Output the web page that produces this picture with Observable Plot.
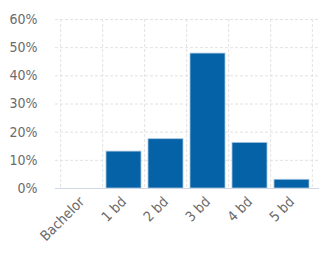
<!DOCTYPE html>
<html><head><meta charset="utf-8">
<script src="https://cdn.jsdelivr.net/npm/d3@7"></script>
<script src="https://cdn.jsdelivr.net/npm/@observablehq/plot@0.6"></script>
<style>body{margin:0;background:#fff}</style>
</head><body><div id="chart"></div>
<script>
const categories = ["Bachelor", "1 bd", "2 bd", "3 bd", "4 bd", "5 bd"];
const shares = [0.0, 0.131, 0.175, 0.479, 0.162, 0.031];
const yTicks = [0, 0.1, 0.2, 0.3, 0.4, 0.5, 0.6];
const data = categories.map((c, i) => ({category: c, share: shares[i]}));
const PAD = 0.16;
const gridColor = "#e2e2e2";

function vGrid(index, scales, values, dims) {
  const g = d3.create("svg:g");
  const x = scales.x;
  const bw = x.bandwidth();
  const step = bw / (1 - PAD);
  const bounds = categories.map(c => x(c) - step * PAD / 2).concat([x(categories[categories.length-1]) + bw + step * PAD / 2]);
  for (const b of bounds) {
    g.append("line").attr("x1", b).attr("x2", b)
      .attr("y1", dims.marginTop).attr("y2", dims.height - dims.marginBottom)
      .attr("stroke", gridColor).attr("stroke-dasharray", "3,2");
  }
  return g.node();
}

const chart = Plot.plot({
  width: 331, height: 261,
  marginLeft: 55, marginRight: 12, marginTop: 19, marginBottom: 73,
  style: {fontFamily: "'DejaVu Sans Condensed', 'DejaVu Sans', sans-serif", fontSize: "14px", color: "#6b6b6b", background: "#fff"},
  x: {domain: categories, padding: PAD, label: null, tickSize: 0, tickRotate: -45, tickPadding: 11},
  y: {domain: [0, 0.6], ticks: yTicks, tickFormat: d => Math.round(d*100) + "%", label: null, tickSize: 0, tickPadding: 18},
  marks: [
    Plot.gridY(yTicks, {stroke: gridColor, strokeOpacity: 1, strokeDasharray: "3,2"}),
    vGrid,
    Plot.barY(data, {x: "category", y: "share", fill: "#0562a6", stroke: "#a9c6e0", strokeWidth: 0.8}),
    Plot.ruleY([0], {stroke: "#cdd8e4", strokeWidth: 1.2})
  ]
});
document.getElementById("chart").append(chart);
</script>
</body></html>
